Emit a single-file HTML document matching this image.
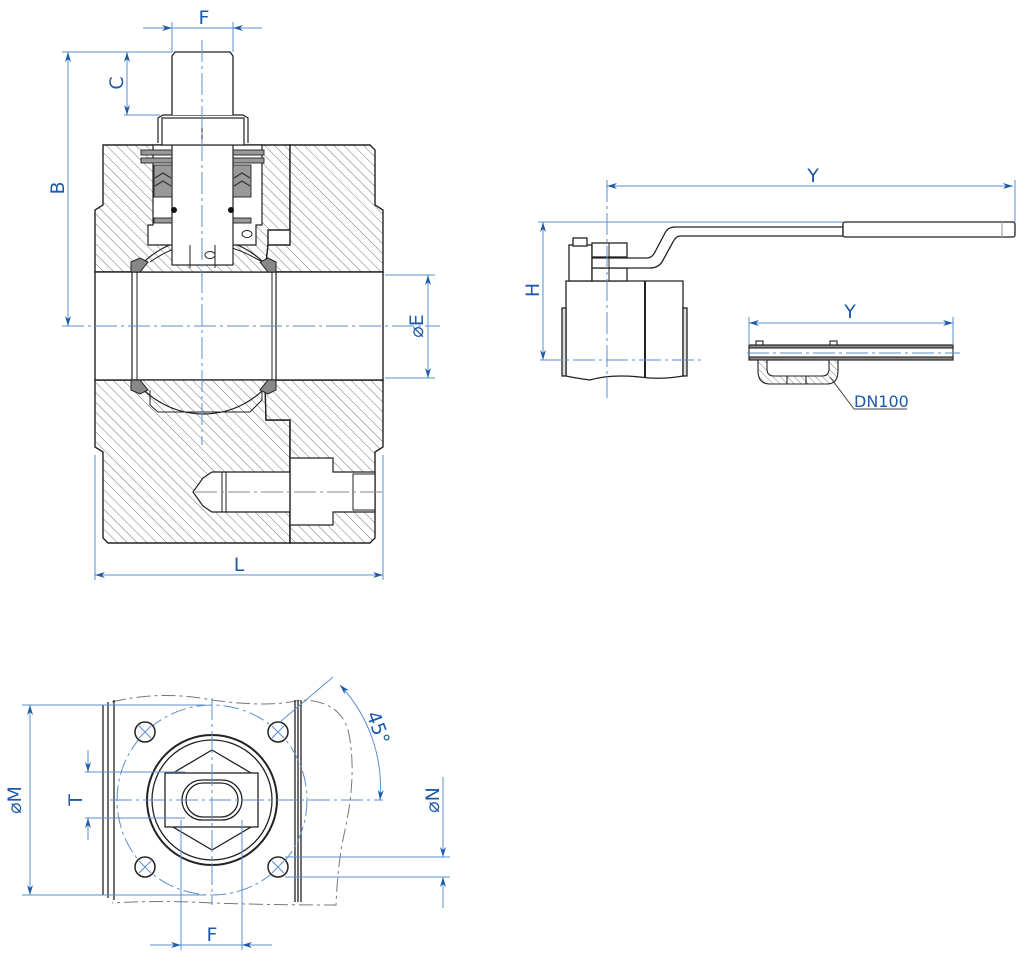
<!DOCTYPE html>
<html><head><meta charset="utf-8"><style>
html,body{margin:0;padding:0;background:#fff;}
svg{display:block;}
text{font-family:"DejaVu Sans","Liberation Sans",sans-serif;fill:#1d5aa8;}
</style></head><body>
<svg width="1024" height="957" viewBox="0 0 1024 957" xmlns="http://www.w3.org/2000/svg">
<defs>
<pattern id="h" width="7" height="7" patternUnits="userSpaceOnUse" patternTransform="rotate(-45)">
<rect width="7" height="7" fill="#fff"/><line x1="0" y1="0" x2="0" y2="7" stroke="#666" stroke-width="0.9"/></pattern>
<pattern id="hs" width="5" height="5" patternUnits="userSpaceOnUse" patternTransform="rotate(-45)">
<rect width="5" height="5" fill="#fff"/><line x1="0" y1="0" x2="0" y2="5" stroke="#666" stroke-width="0.8"/></pattern>
<marker id="a" viewBox="0 0 10 6" refX="10" refY="3" markerWidth="11" markerHeight="6" orient="auto-start-reverse" markerUnits="userSpaceOnUse">
<path d="M0,0 L10,3 L0,6 L3,3 Z" fill="#1d5aa8"/></marker>
</defs>

<!-- ===== SECTION VIEW ===== -->
<g stroke="#222" stroke-width="1.4">
<path d="M103,145 H290 V230 H268 V245 L265,272 H95 V210 L103,205 Z" fill="url(#h)"/>
<path d="M95,380 H265 L266,420 H290 V543 H108 L103,538 V452 L95,447 Z" fill="url(#h)"/>
<path d="M290,145 H370 L375,150 V205 L383,210 V272 H265 L268,245 H290 Z" fill="url(#h)"/>
<path d="M265,380 H383 V447 L375,452 V538 L370,543 H290 V420 H266 Z" fill="url(#h)"/>
</g>
<rect x="95" y="272" width="288" height="108" fill="#fff" stroke="#222" stroke-width="1.4"/>
<path d="M135,272 A86,86 0 0 1 272,272 Z" fill="url(#h)" stroke="#222" stroke-width="1.2"/>
<path d="M135,380 A86,86 0 0 0 272,380 Z" fill="url(#h)" stroke="#222" stroke-width="1.2"/>
<line x1="132" y1="272" x2="132" y2="380" stroke="#222" stroke-width="1.2"/>
<line x1="137" y1="272" x2="137" y2="380" stroke="#222" stroke-width="1"/>
<line x1="272" y1="272" x2="272" y2="380" stroke="#222" stroke-width="1"/>
<line x1="276" y1="272" x2="276" y2="380" stroke="#222" stroke-width="1.2"/>
<g fill="#888" stroke="#222" stroke-width="1">
<path d="M131,262 L140,258 L148,262 L140,272 L131,272 Z"/>
<path d="M276,262 L268,258 L260,262 L268,272 L276,272 Z"/>
<path d="M131,380 L140,380 L148,390 L140,394 L131,390 Z"/>
<path d="M276,380 L268,380 L260,390 L268,394 L276,390 Z"/>
</g>
<path d="M150,390 V405 L158,412 H250 L262,400 V392" fill="none" stroke="#222" stroke-width="1"/>
<path d="M153,145 V225 H148 V245 H256 V225 H262 V145 Z" fill="#fff" stroke="#222" stroke-width="1.2"/>
<path d="M150,262 Q202,225 262,262" fill="url(#h)" stroke="#222" stroke-width="1"/>
<rect x="172" y="145" width="61" height="120" fill="#fff" stroke="#222" stroke-width="1.2"/>
<line x1="190" y1="245" x2="190" y2="268" stroke="#222"/><line x1="215" y1="245" x2="215" y2="268" stroke="#222"/>
<g fill="#999" stroke="#222" stroke-width="0.9">
<rect x="141" y="150" width="31" height="5"/><rect x="141" y="158" width="31" height="5"/>
<rect x="233" y="150" width="31" height="5"/><rect x="233" y="158" width="31" height="5"/>
<rect x="154" y="165" width="18" height="32"/><rect x="233" y="165" width="18" height="32"/>
<rect x="154" y="218" width="18" height="5"/><rect x="233" y="218" width="18" height="5"/>
</g>
<g fill="none" stroke="#333" stroke-width="1.2">
<path d="M155,178 L163,173 L171,178 M155,186 L163,181 L171,186"/>
<path d="M234,178 L242,173 L250,178 M234,186 L242,181 L250,186"/>
</g>
<circle cx="174" cy="210" r="3" fill="#111"/><circle cx="231" cy="210" r="3" fill="#111"/>
<ellipse cx="247" cy="234" rx="5" ry="3.5" fill="#fff" stroke="#222"/>
<ellipse cx="210" cy="255" rx="5" ry="3.5" fill="#fff" stroke="#222"/>
<path d="M158,143 V118 L163,115 H243 L248,118 V143" fill="none" stroke="#222" stroke-width="1.2"/>
<rect x="162" y="118" width="82" height="27" fill="#fff" stroke="#222" stroke-width="1.2"/>
<line x1="202" y1="118" x2="202" y2="145" stroke="#222"/>
<path d="M172,115 V56 L175,52 H230 L233,56 V115" fill="#fff" stroke="#222" stroke-width="1.3"/>
<path d="M290,458 H333 V472 H375 V512 H333 V525 H290 Z" fill="#fff" stroke="#222" stroke-width="1.2"/>
<path d="M290,472 H212 L203,478 L193,492 L203,506 L212,512 H290 Z" fill="#fff" stroke="#222" stroke-width="1.2"/>
<line x1="222" y1="472" x2="222" y2="512" stroke="#222"/><line x1="226" y1="472" x2="226" y2="512" stroke="#222"/>
<rect x="353" y="474" width="22" height="36" fill="none" stroke="#222"/>
<line x1="290" y1="420" x2="290" y2="543" stroke="#222" stroke-width="1.2"/>

<g stroke="#5b8fd0" stroke-width="1" stroke-dasharray="22,4,3,4" fill="none">
<line x1="202" y1="40" x2="202" y2="445"/>
<line x1="62" y1="326" x2="440" y2="326"/>
<line x1="195" y1="492" x2="385" y2="492" stroke="#888"/>
</g>
<g stroke="#5b8fd0" stroke-width="1" fill="none">
<line x1="143" y1="28" x2="262" y2="28"/>
<line x1="172" y1="22" x2="172" y2="52"/><line x1="233" y1="22" x2="233" y2="52"/>
<line x1="143" y1="28" x2="172" y2="28" marker-end="url(#a)"/>
<line x1="262" y1="28" x2="233" y2="28" marker-end="url(#a)"/>
<line x1="62" y1="52" x2="172" y2="52"/>
<line x1="124" y1="115" x2="160" y2="115"/>
<line x1="127" y1="83" x2="127" y2="52" marker-end="url(#a)"/>
<line x1="127" y1="83" x2="127" y2="115" marker-end="url(#a)"/>
<line x1="68" y1="188" x2="68" y2="52" marker-end="url(#a)"/>
<line x1="68" y1="188" x2="68" y2="326" marker-end="url(#a)"/>
<line x1="385" y1="275" x2="435" y2="275"/><line x1="385" y1="378" x2="435" y2="378"/>
<line x1="428" y1="326" x2="428" y2="275" marker-end="url(#a)"/>
<line x1="428" y1="326" x2="428" y2="378" marker-end="url(#a)"/>
<line x1="95" y1="455" x2="95" y2="580"/><line x1="383" y1="455" x2="383" y2="580"/>
<line x1="239" y1="575" x2="95" y2="575" marker-end="url(#a)"/>
<line x1="239" y1="575" x2="383" y2="575" marker-end="url(#a)"/>
</g>
<text x="204" y="24" font-size="19" text-anchor="middle">F</text>
<text transform="translate(123,83) rotate(-90)" font-size="19" text-anchor="middle">C</text>
<text transform="translate(64,188) rotate(-90)" font-size="19" text-anchor="middle">B</text>
<text transform="translate(423,326) rotate(-90)" font-size="19" text-anchor="middle">⌀E</text>
<text x="239" y="571" font-size="19" text-anchor="middle">L</text>

<!-- ===== SIDE VIEW WITH HANDLE ===== -->
<g stroke="#222" stroke-width="1.3" fill="#fff">
<path d="M566,281 H683 V376 Q660,380 640,377 Q610,374 590,380 Q575,378 566,376 Z"/>
<line x1="645" y1="281" x2="645" y2="377" stroke-width="2"/>
<rect x="562" y="308" width="4" height="68" fill="#ddd"/>
<rect x="683" y="308" width="4" height="68" fill="#ddd"/>
<rect x="569" y="245" width="23" height="36"/>
<rect x="573" y="238" width="14" height="8"/>
<rect x="592" y="243" width="35" height="14"/>
<rect x="592" y="268" width="35" height="13"/>
<path d="M592,258 H647 Q652,258 655,252 L665,233 Q668,227 675,227 H843 V236 H680 Q676,236 673,242 L662,262 Q658,268 650,268 H592 Z"/>
<rect x="843" y="222" width="172" height="15" rx="2"/>
<line x1="1002" y1="222" x2="1002" y2="237" stroke="#aaa"/>
</g>
<line x1="609" y1="243" x2="609" y2="281" stroke="#222"/>
<g stroke="#5b8fd0" stroke-width="1" fill="none">
<line x1="607" y1="180" x2="607" y2="398" stroke-dasharray="22,4,3,4"/>
<line x1="540" y1="360" x2="702" y2="360" stroke-dasharray="22,4,3,4"/>
<line x1="810" y1="186" x2="607" y2="186" marker-end="url(#a)"/>
<line x1="810" y1="186" x2="1013" y2="186" marker-end="url(#a)"/>
<line x1="1015" y1="180" x2="1015" y2="222"/>
<line x1="538" y1="222" x2="843" y2="222"/>
<line x1="543" y1="290" x2="543" y2="222" marker-end="url(#a)"/>
<line x1="543" y1="290" x2="543" y2="360" marker-end="url(#a)"/>
</g>
<text x="813" y="182" font-size="19" text-anchor="middle">Y</text>
<text transform="translate(539,290) rotate(-90)" font-size="19" text-anchor="middle">H</text>

<g stroke="#222" stroke-width="1.1">
<rect x="756" y="341" width="7" height="5" fill="#fff"/>
<rect x="830" y="341" width="7" height="5" fill="#fff"/>
<rect x="749" y="345" width="204" height="15" fill="#fff"/>
<rect x="749" y="345" width="204" height="3" fill="#888"/>
<rect x="749" y="357" width="204" height="3" fill="#888"/>
<path d="M758,360 V371 Q758,384 770,384 H827 Q838,384 838,371 V360 H829 V369 Q829,376 822,376 H774 Q767,376 767,369 V360 Z" fill="url(#hs)"/>
<line x1="787" y1="376" x2="787" y2="384"/><line x1="806" y1="376" x2="806" y2="384"/>
</g>
<g stroke="#5b8fd0" stroke-width="1" fill="none">
<line x1="747" y1="353" x2="960" y2="353" stroke-dasharray="22,4,3,4"/>
<line x1="749" y1="317" x2="749" y2="345"/><line x1="953" y1="317" x2="953" y2="345"/>
<line x1="850" y1="323" x2="749" y2="323" marker-end="url(#a)"/>
<line x1="850" y1="323" x2="953" y2="323" marker-end="url(#a)"/>
</g>
<polyline points="830,377 854,409 907,409" fill="none" stroke="#444" stroke-width="1"/>
<text x="850" y="318" font-size="19" text-anchor="middle">Y</text>
<text x="854" y="407" font-size="16">DN100</text>

<!-- ===== BOTTOM VIEW ===== -->
<path d="M112,702 Q160,690 212,700 Q270,708 300,700 Q345,700 350,740 Q356,780 345,830 Q338,860 336,905 Q270,905 212,903 Q160,900 112,903" fill="none" stroke="#777" stroke-width="1" stroke-dasharray="14,4,3,4"/>
<g stroke="#222" stroke-width="1.3" fill="none">
<path d="M103,705 V895"/><path d="M108,702 V898"/><path d="M114,700 V900"/>
<path d="M295,700 V902"/><path d="M298,700 V902"/><path d="M301,700 V902"/>
</g>
<circle cx="212" cy="800" r="95" fill="none" stroke="#5b8fd0" stroke-width="1" stroke-dasharray="16,4,3,4"/>
<g stroke="#222" stroke-width="1.3" fill="#fff">
<circle cx="212" cy="800" r="65" stroke-width="2"/>
<circle cx="212" cy="800" r="60"/>
<polygon points="212,750 251,773 251,827 212,850 173,827 173,773"/>
<rect x="165" y="773" width="93" height="54"/>
<rect x="182" y="780" width="60" height="40" rx="20"/>
<rect x="186" y="783" width="52" height="34" rx="17"/>
</g>
<g stroke="#222" stroke-width="1.5" fill="#fff">
<circle cx="145" cy="732" r="10"/><circle cx="278" cy="732" r="10"/>
<circle cx="145" cy="867" r="10"/><circle cx="278" cy="867" r="10"/>
</g>
<g stroke="#5b8fd0" stroke-width="1">
<path d="M139,726 L151,738 M151,726 L139,738 M272,726 L284,738 M284,726 L272,738 M139,861 L151,873 M151,861 L139,873 M272,861 L284,873 M284,861 L272,873"/>
</g>
<g stroke="#5b8fd0" stroke-width="1" fill="none">
<line x1="212" y1="698" x2="212" y2="905" stroke-dasharray="22,4,3,4"/>
<line x1="110" y1="800" x2="383" y2="800" stroke-dasharray="22,4,3,4"/>
<line x1="22" y1="705" x2="205" y2="705"/><line x1="22" y1="895" x2="205" y2="895"/>
<line x1="30" y1="800" x2="30" y2="705" marker-end="url(#a)"/>
<line x1="30" y1="800" x2="30" y2="895" marker-end="url(#a)"/>
<line x1="85" y1="772" x2="185" y2="772"/><line x1="85" y1="818" x2="185" y2="818"/>
<line x1="88" y1="750" x2="88" y2="772" marker-end="url(#a)"/>
<line x1="88" y1="840" x2="88" y2="818" marker-end="url(#a)"/>
<line x1="181" y1="820" x2="181" y2="950"/><line x1="242" y1="820" x2="242" y2="950"/>
<line x1="150" y1="945" x2="181" y2="945" marker-end="url(#a)"/>
<line x1="272" y1="945" x2="242" y2="945" marker-end="url(#a)"/>
<line x1="181" y1="945" x2="242" y2="945"/>
<line x1="285" y1="857" x2="450" y2="857"/><line x1="285" y1="877" x2="450" y2="877"/>
<line x1="443" y1="777" x2="443" y2="857" marker-end="url(#a)"/>
<line x1="443" y1="908" x2="443" y2="877" marker-end="url(#a)"/>
<line x1="280" y1="722" x2="333" y2="677"/>
<path d="M340,685 A150,150 0 0 1 380,800" marker-start="url(#a)" marker-end="url(#a)"/>
</g>
<text transform="translate(21,800) rotate(-90)" font-size="19" text-anchor="middle">⌀M</text>
<text transform="translate(82,800) rotate(-90)" font-size="19" text-anchor="middle">T</text>
<text transform="translate(439,800) rotate(-90)" font-size="19" text-anchor="middle">⌀N</text>
<text x="212" y="941" font-size="19" text-anchor="middle">F</text>
<text transform="translate(372,730) rotate(70)" font-size="19" text-anchor="middle">45°</text>
</svg>
</body></html>
